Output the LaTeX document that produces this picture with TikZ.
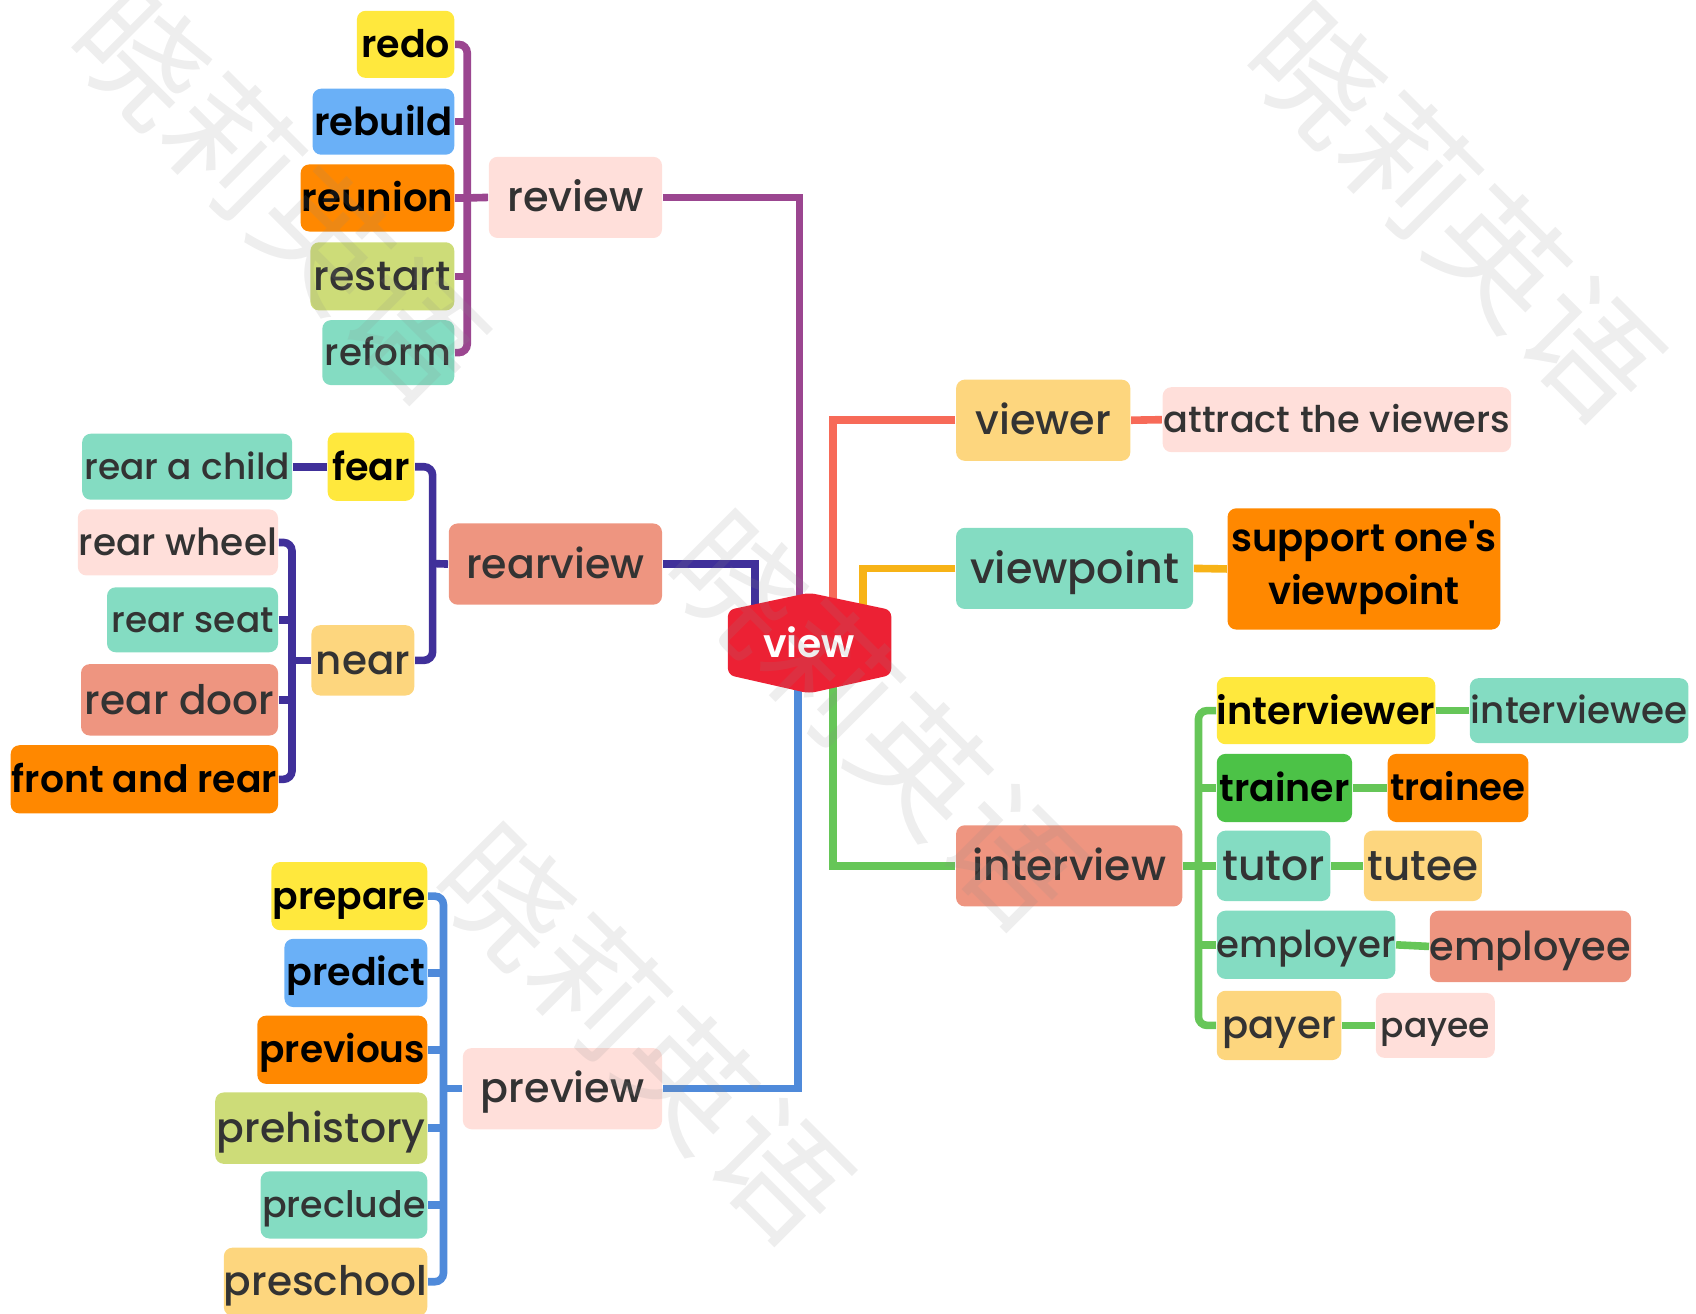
\documentclass[tikz,border=0pt]{standalone}
\usepackage{fontspec}
\setmainfont{Poppins}[UprightFont=* Medium, BoldFont=* SemiBold]
\newfontfamily\cjk{Noto Sans CJK SC}
\usepackage{graphicx}
\usetikzlibrary{calc,backgrounds}
\definecolor{cyel}{HTML}{FFE83D}
\definecolor{cblue}{HTML}{6AB0F7}
\definecolor{corange}{HTML}{FF8800}
\definecolor{clime}{HTML}{CDDC78}
\definecolor{cteal}{HTML}{84DCC2}
\definecolor{cpink}{HTML}{FFDFDA}
\definecolor{csalmon}{HTML}{EE9580}
\definecolor{clo}{HTML}{FDD67E}
\definecolor{cgreen}{HTML}{4CC247}
\definecolor{cred}{HTML}{EC2134}
\definecolor{tdark}{HTML}{333333}
\definecolor{lpurple}{HTML}{9B4690}
\definecolor{lindigo}{HTML}{40309A}
\definecolor{lsalmon}{HTML}{F76A58}
\definecolor{lorange}{HTML}{F7B317}
\definecolor{lgreen}{HTML}{66C658}
\definecolor{lblue}{HTML}{4F8ADA}
\newcommand\fw[2]{\resizebox{#1cm}{!}{\rule[-0.25em]{0pt}{1.2em}#2}}
\begin{document}
\begin{tikzpicture}[x=0.01cm,y=-0.01cm,
  box/.style={rectangle, rounded corners=0.08cm, inner sep=0pt, text=tdark},
  bb/.style={box, text=black, font=\bfseries},
  sz/.style 2 args={minimum width=#1cm, minimum height=#2cm},
  ln/.style={line width=2pt},
  brk/.style={line width=2pt, rounded corners=0.08cm},
  wm/.style={font=\cjk\fontsize{34}{34}\selectfont, text=black!45, opacity=0.15, inner sep=0pt}]
\useasboundingbox (0,0) rectangle (1568,1214);
% review branch
\node[bb, fill=cyel, sz={0.90}{0.62}] (redo) at (375,41) {\fw{0.82}{redo}};
\node[bb, fill=cblue, sz={1.31}{0.61}] (rebuild) at (354.5,112.5) {\fw{1.28}{rebuild}};
\node[bb, fill=corange, sz={1.42}{0.62}] (reunion) at (349,183) {\fw{1.40}{reunion}};
\node[box, fill=clime, sz={1.33}{0.63}] (restart) at (353.5,255.5) {\fw{1.27}{restart}};
\node[box, fill=cteal, sz={1.22}{0.60}] (reform) at (359,326) {\fw{1.17}{reform}};
\node[box, fill=cpink, sz={1.60}{0.75}] (review) at (532,182.5) {\fw{1.26}{review}};
% viewer / viewpoint
\node[box, fill=clo, sz={1.61}{0.75}] (viewer) at (964.5,388.5) {\fw{1.25}{viewer}};
\node[box, fill=cpink, sz={3.22}{0.60}] (attract) at (1236,388) {\fw{3.20}{attract the viewers}};
\node[box, fill=cteal, sz={2.19}{0.75}] (viewpoint) at (993.5,525.5) {\fw{1.93}{viewpoint}};
\node[bb, fill=corange, sz={2.52}{1.12}] (support) at (1261,526) {\resizebox{2.45cm}{!}{\begin{tabular}{@{}c@{}}support one\textquotesingle s\\[1.7pt]viewpoint\end{tabular}}};
% rearview branch
\node[box, fill=cteal, sz={1.94}{0.61}] (rearchild) at (173,431.5) {\fw{1.90}{rear a child}};
\node[bb, fill=cyel, sz={0.80}{0.63}] (fear) at (343,431.5) {\fw{0.72}{fear}};
\node[box, fill=cpink, sz={1.85}{0.61}] (rearwheel) at (164.5,501.5) {\fw{1.83}{rear wheel}};
\node[box, fill=cteal, sz={1.58}{0.60}] (rearseat) at (178,573) {\fw{1.50}{rear seat}};
\node[box, fill=clo, sz={0.95}{0.65}] (near) at (335.5,610.5) {\fw{0.87}{near}};
\node[box, fill=csalmon, sz={1.82}{0.66}] (reardoor) at (166,647) {\fw{1.75}{rear door}};
\node[bb, fill=corange, sz={2.47}{0.63}] (frontrear) at (133.5,720.5) {\fw{2.45}{front and rear}};
\node[box, fill=csalmon, sz={1.97}{0.75}] (rearview) at (513.5,521.5) {\fw{1.65}{rearview}};
% interview branch
\node[bb, fill=cyel, sz={2.02}{0.62}] (interviewer) at (1226,657) {\fw{2.02}{interviewer}};
\node[box, fill=cteal, sz={2.02}{0.60}] (interviewee) at (1460,657) {\fw{2.00}{interviewee}};
\node[bb, fill=cgreen, sz={1.25}{0.63}] (trainer) at (1187.5,728.5) {\fw{1.20}{trainer}};
\node[bb, fill=corange, sz={1.30}{0.63}] (trainee) at (1348,728.5) {\fw{1.25}{trainee}};
\node[box, fill=cteal, sz={1.05}{0.65}] (tutor) at (1177.5,800.5) {\fw{0.95}{tutor}};
\node[box, fill=clo, sz={1.09}{0.65}] (tutee) at (1315.5,800.5) {\fw{1.02}{tutee}};
\node[box, fill=cteal, sz={1.65}{0.63}] (employer) at (1207.5,873.5) {\fw{1.65}{employer}};
\node[box, fill=csalmon, sz={1.86}{0.66}] (employee) at (1415,875) {\fw{1.86}{employee}};
\node[box, fill=clo, sz={1.15}{0.64}] (payer) at (1182.5,948) {\fw{1.05}{payer}};
\node[box, fill=cpink, sz={1.10}{0.60}] (payee) at (1327,948) {\fw{1.01}{payee}};
\node[box, fill=csalmon, sz={2.09}{0.75}] (interview) at (988.5,800.5) {\fw{1.79}{interview}};
% preview branch
\node[bb, fill=cyel, sz={1.44}{0.63}] (prepare) at (323,828.5) {\fw{1.42}{prepare}};
\node[bb, fill=cblue, sz={1.32}{0.63}] (predict) at (329,899.5) {\fw{1.28}{predict}};
\node[bb, fill=corange, sz={1.57}{0.63}] (previous) at (316.5,970.5) {\fw{1.53}{previous}};
\node[box, fill=clime, sz={1.96}{0.66}] (prehistory) at (297,1043) {\fw{1.93}{prehistory}};
\node[box, fill=cteal, sz={1.54}{0.62}] (preclude) at (318,1114) {\fw{1.51}{preclude}};
\node[box, fill=clo, sz={1.88}{0.63}] (preschool) at (301,1185) {\fw{1.88}{preschool}};
\node[box, fill=cpink, sz={1.84}{0.75}] (preview) at (520,1006.5) {\fw{1.51}{preview}};
% central hexagon
\fill[cred, rounded corners=0.06cm] (748,548) -- (824,564) -- (824,624) -- (748,641) -- (673,624) -- (673,564) -- cycle;
\node[text=white, font=\bfseries, inner sep=0pt] (view) at (748,595) {\fw{0.85}{view}};
% junction coordinates
\coordinate (rvj) at (432,183);
\coordinate (rrj) at (400,521);
\coordinate (nj) at (270,610.5);
\coordinate (pj) at (410,1006.5);
\coordinate (ij) at (1108,800.5);
\begin{scope}[on background layer]
  % main connectors
  \draw[ln, lpurple] (review.east) -| ($(view)+(-9,0)$);
  \draw[ln, lindigo] (rearview.east) -| ($(view)+(-50,0)$);
  \draw[ln, lsalmon] (viewer.west) -| ($(view)+(22,0)$);
  \draw[ln, lorange] (viewpoint.west) -| ($(view)+(50,0)$);
  \draw[ln, lgreen] (interview.west) -| ($(view)+(22,0)$);
  \draw[ln, lblue] (preview.east) -| ($(view)+(-10,0)$);
  % review bracket
  \draw[brk, lpurple] (redo.east) -| (rvj) |- (reform.east);
  \draw[ln, lpurple] (rebuild.east) -- (rebuild.east -| rvj);
  \draw[ln, lpurple] (reunion.east) -- (reunion.east -| rvj);
  \draw[ln, lpurple] (restart.east) -- (restart.east -| rvj);
  \draw[ln, lpurple] (review.west) -- (rvj);
  % rearview brackets
  \draw[brk, lindigo] (fear.east) -| (rrj) |- (near.east);
  \draw[ln, lindigo] (rearview.west) -- (rrj);
  \draw[ln, lindigo] (rearchild.east) -- (fear.west);
  \draw[brk, lindigo] (rearwheel.east) -| (nj) |- (frontrear.east);
  \draw[ln, lindigo] (rearseat.east) -- (rearseat.east -| nj);
  \draw[ln, lindigo] (reardoor.east) -- (reardoor.east -| nj);
  \draw[ln, lindigo] (near.west) -- (nj);
  % viewer / viewpoint children
  \draw[ln, lsalmon] (viewer.east) -- (attract.west);
  \draw[ln, lorange] (viewpoint.east) -- (support.west);
  % interview bracket
  \draw[brk, lgreen] (interviewer.west) -| (ij) |- (payer.west);
  \draw[ln, lgreen] (trainer.west) -- (trainer.west -| ij);
  \draw[ln, lgreen] (tutor.west) -- (tutor.west -| ij);
  \draw[ln, lgreen] (employer.west) -- (employer.west -| ij);
  \draw[ln, lgreen] (interview.east) -- (ij);
  \draw[ln, lgreen] (interviewer.east) -- (interviewee.west);
  \draw[ln, lgreen] (trainer.east) -- (trainee.west);
  \draw[ln, lgreen] (tutor.east) -- (tutee.west);
  \draw[ln, lgreen] (employer.east) -- (employee.west);
  \draw[ln, lgreen] (payer.east) -- (payee.west);
  % preview bracket
  \draw[brk, lblue] (prepare.east) -| (pj) |- (preschool.east);
  \draw[ln, lblue] (predict.east) -- (predict.east -| pj);
  \draw[ln, lblue] (previous.east) -- (previous.east -| pj);
  \draw[ln, lblue] (prehistory.east) -- (prehistory.east -| pj);
  \draw[ln, lblue] (preclude.east) -- (preclude.east -| pj);
  \draw[ln, lblue] (preview.west) -- (pj);
\end{scope}
% watermark
\node[wm, rotate=-45] (wm1) at (258,178) {晓莉英语};
\node[wm, rotate=-45] (wm2) at (1345,195) {晓莉英语};
\node[wm, rotate=-45] (wm3) at (810,665) {晓莉英语};
\node[wm, rotate=-45] (wm4) at (595,955) {晓莉英语};
\end{tikzpicture}
\end{document}
